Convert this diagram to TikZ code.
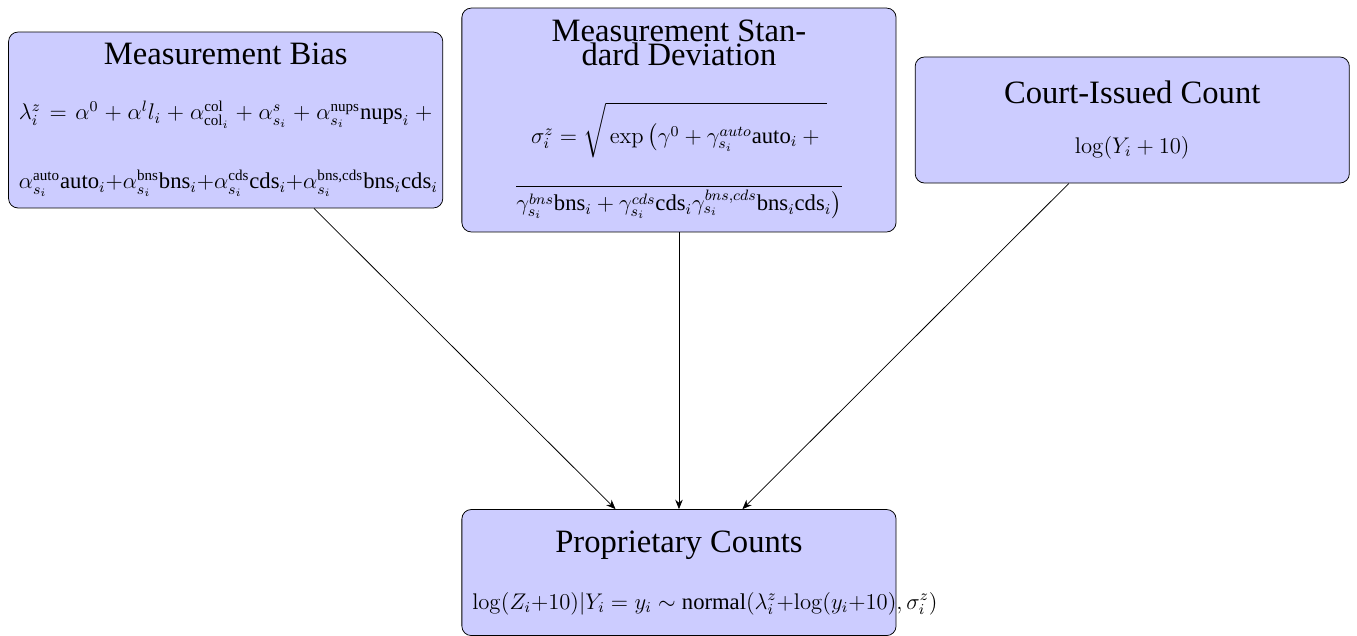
\documentclass[tikz,border=0pt]{standalone}
\usepackage{amsmath}
\usepackage[no-math]{fontspec}
\setmainfont{Liberation Serif}
\usepackage{tikz}
\usetikzlibrary{arrows.meta}
\definecolor{bleuclair}{RGB}{204,204,255}
\newcommand{\titre}[1]{{\fontsize{17.28}{13}\selectfont #1}}
\newcommand{\serre}{\lineskiplimit=-50pt\relax\binoppenalty=10000\relax\relpenalty=10000\relax}

\begin{document}
\begin{tikzpicture}[
    bloc/.style={rectangle, rounded corners=5pt, draw=black, fill=bleuclair,
                 text width=7.7cm, align=flush center, inner xsep=5.5pt, inner ysep=6pt,
                 font=\fontsize{12}{13}\selectfont\serre},
    fleche/.style={-{Stealth[length=5pt,width=4pt]}, black}
  ]
    \useasboundingbox (-359.8pt,-273.4pt) rectangle (359.3pt,63.6pt);

    % Noeuds du haut
    \node[bloc, inner ysep=6.2pt] (ecart) at (0,0)
      {\titre{Measurement Stan-}\\\titre{dard Deviation}\\[28pt]
       $\sigma_i^z=\sqrt{\rule[-3.5pt]{0pt}{20pt}\exp\left(\gamma^0+\gamma_{s_i}^{auto}\text{auto}_i+{}\right.}$\\[22.8pt]
       $\overline{\gamma_{s_i}^{bns}\text{bns}_i+\gamma_{s_i}^{cds}\text{cds}_i\gamma_{s_i}^{bns,cds}\text{bns}_i\text{cds}_i\bigr)}\rule[-5pt]{0pt}{0pt}$};
    \node[bloc] (biais) at (-240.2pt,0)
      {\titre{Measurement Bias}\\[16.1pt]
       \makebox[\hsize][s]{$\lambda_i^z=\alpha^0+\alpha^l l_i+\alpha^{\text{col}}_{\text{col}_i}+\alpha^s_{s_i}+\alpha^{\text{nups}}_{s_i}\text{nups}_i\mskip\medmuskip+$}\\[23.5pt]
       $\alpha^{\text{auto}}_{s_i}\text{auto}_i+\alpha^{\text{bns}}_{s_i}\text{bns}_i+\alpha^{\text{cds}}_{s_i}\text{cds}_i+\alpha^{\text{bns,cds}}_{s_i}\text{bns}_i\text{cds}_i$};
    \node[bloc, minimum height=66.8pt] (cour) at (240.2pt,0)
      {\titre{Court-Issued Count}\\[13.5pt]
       $\log(Y_i+10)$};

    % Noeud du bas
    \node[bloc, minimum height=66.8pt] (compte) at (0,-239.8pt)
      {\titre{Proprietary Counts}\\[17.2pt]
       $\log(Z_i+10)|Y_i=y_i\sim\text{normal}(\lambda_i^z+\log(y_i+10),\sigma_i^z)$};

    % Arcs
    \draw[fleche] (biais) -- (compte);
    \draw[fleche] (ecart) -- (compte);
    \draw[fleche] (cour) -- (compte);
\end{tikzpicture}
\end{document}
